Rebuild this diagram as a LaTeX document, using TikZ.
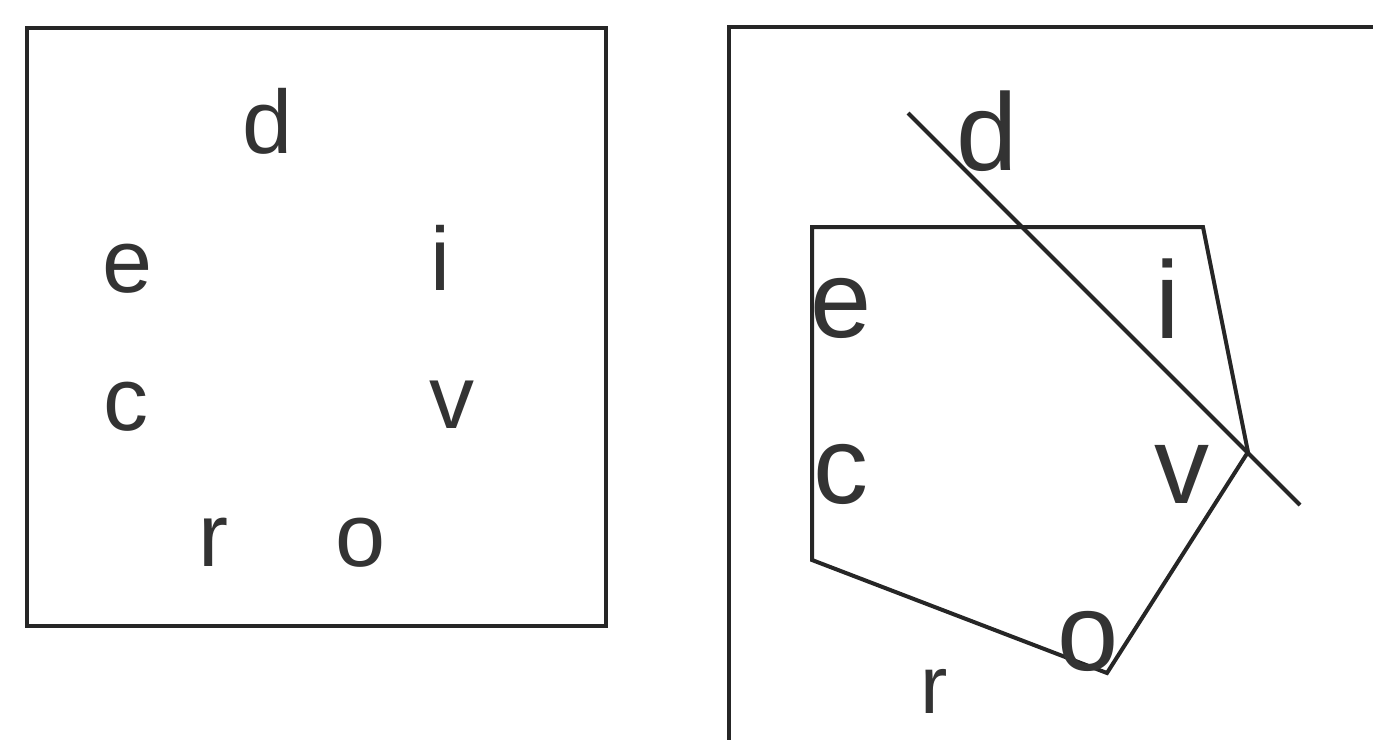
\documentclass[tikz,border=0pt]{standalone}
\usepackage{fontspec}
\setmainfont{Liberation Sans}
\begin{document}
\begin{tikzpicture}[x=0.5pt,y=-0.5pt,
  frame/.style={draw=black!85,line width=2pt},
  poly/.style={draw=black!85,line width=2pt,line join=miter},
  small/.style={anchor=base,inner sep=0pt,text=black!80,font=\fontsize{45}{48}\selectfont},
  big/.style={anchor=base,inner sep=0pt,text=black!80,font=\fontsize{55}{58}\selectfont}]
\useasboundingbox (0,0) rectangle (1373,740);
% left panel
\draw[frame] (27,28) rectangle (606,626);
\node[small] (ld) at (268,153) {d};
\node[small] (le) at (128,292) {e};
\node[small] (li) at (440,290) {i};
\node[small] (lc) at (126,430) {c};
\node[small] (lv) at (452,428) {v};
\node[small] (lr) at (213,566) {r};
\node[small] (lo) at (361,566) {o};
% right panel
\draw[frame] (729,740) -- (729,27) -- (1373,27);
\coordinate (p1) at (812,227);
\coordinate (p2) at (1203,227);
\coordinate (p3) at (1248,452);
\coordinate (p4) at (1107,673);
\coordinate (p5) at (812,560);
\draw[poly] (p1) -- (p2) -- (p3) -- (p4) -- (p5) -- cycle;
\coordinate (l1) at (908,113);
\coordinate (l2) at (1300,505);
\draw[poly] (l1) -- (l2);
\node[big] (rd) at (987,170) {d};
\node[big] (re) at (841,337) {e};
\node[big] (ri) at (1168,338) {i};
\node[big] (rc) at (841,503) {c};
\node[big] (rv) at (1182,503) {v};
\node[big] (ro) at (1088,670) {o};
\node[big,font=\fontsize{41}{44}\selectfont] (rr) at (934,713) {r};
\end{tikzpicture}
\end{document}
